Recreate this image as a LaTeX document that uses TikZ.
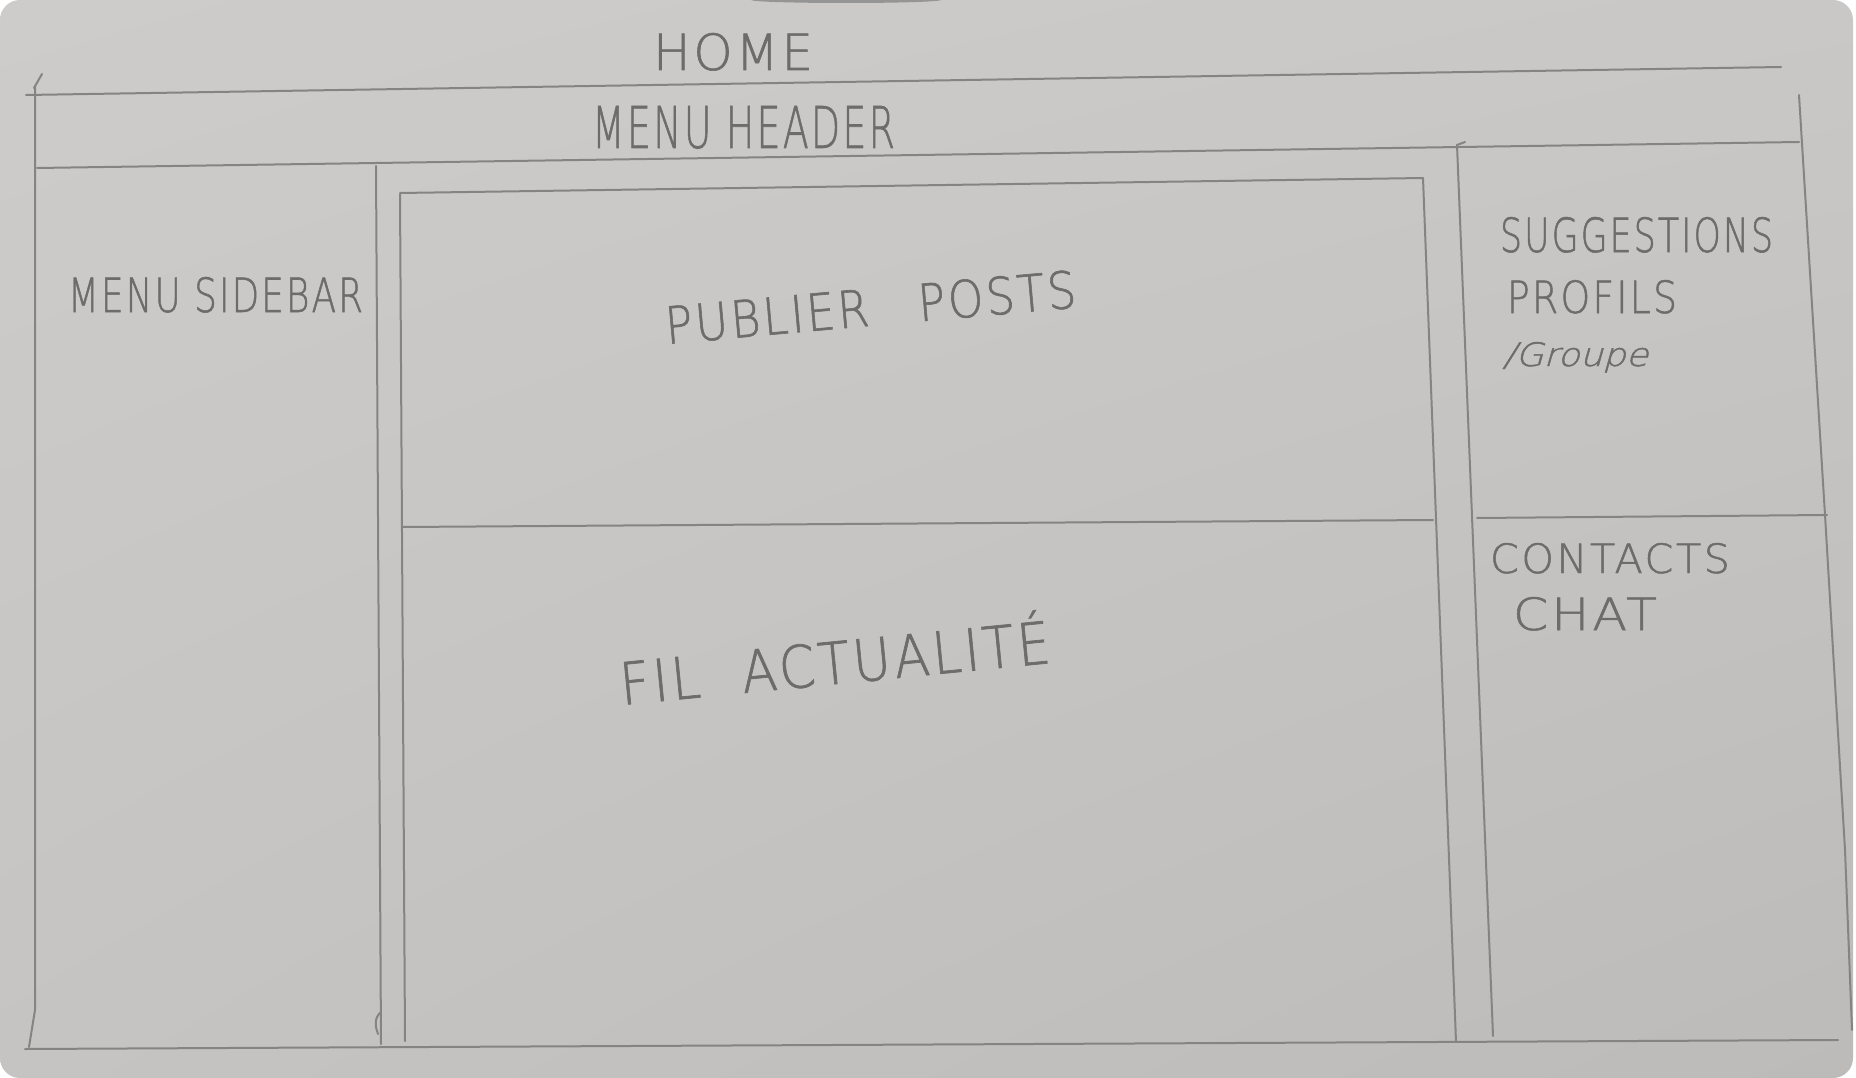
\documentclass[tikz,border=0pt]{standalone}
\usepackage{fontspec}
\usepackage{graphicx}
\usetikzlibrary{shadings}
\newfontfamily\hand{DejaVu Sans ExtraLight}[FakeBold=1.2, LetterSpace=6]
\newfontfamily\handslant{DejaVu Sans ExtraLight}[FakeSlant=0.25, FakeBold=1.2]
\definecolor{paperUL}{HTML}{CECCCA}
\definecolor{paperUR}{HTML}{CAC8C6}
\definecolor{paperLL}{HTML}{C6C4C2}
\definecolor{paperLR}{HTML}{BDBBB9}
\definecolor{pencilline}{HTML}{868482}
\definecolor{inkgray}{HTML}{6E6C6A}
% fit a handwritten label into a box of given width and height (in pt)
\newcommand{\fitlabel}[3]{\resizebox{#1pt}{#2pt}{\hand\fontsize{50}{50}\selectfont #3}}
\begin{document}
\begin{tikzpicture}[x=1pt,y=-1pt,
  sheetline/.style={draw=pencilline, line width=2pt, line cap=round, line join=round},
  handlabel/.style={inner sep=0pt, outer sep=0pt, text=inkgray}]
\useasboundingbox (0,0) rectangle (1856,1078);
% sheet of paper
\fill[white] (0,0) rectangle (1856,1078);
\shade[rounded corners=20pt, upper left=paperUL, upper right=paperUR,
       lower left=paperLL, lower right=paperLR] (0,0) rectangle (1853,1078);
\fill[black!55, opacity=0.6] (846,0) ellipse (95 and 3);

% outer frame
\draw[sheetline] (26,95) -- (1781,67);
\draw[sheetline] (35,86) -- (35,1010) -- (29,1047);
\draw[sheetline] (34,88) -- (42,74);
\draw[sheetline] (25,1049) -- (1838,1040);
\draw[sheetline] (1799,95) -- (1825,515) -- (1833,650) -- (1845,850) -- (1852,1030);

% header band
\draw[sheetline] (37,168) -- (1799,142);

% sidebar column
\draw[sheetline] (376,166) -- (381,1044);
\draw[sheetline] (381,1012) .. controls (374,1018) and (375,1026) .. (378,1034);

% central column: post box and news feed
\draw[sheetline] (400,194) -- (405,1041);
\draw[sheetline] (400,193) -- (1423,178) -- (1456,1042);
\draw[sheetline] (402,527) -- (1433,520);

% right column
\draw[sheetline] (1457,145) -- (1493,1036);
\draw[sheetline] (1457,145) -- (1465,142);
\draw[sheetline] (1477,518) -- (1827,515);

% labels
\node[handlabel, anchor=base west] (home) at (653,70) {\fitlabel{160}{37}{HOME}};
\node[handlabel, anchor=base west] (menuheader) at (592,148) {\fitlabel{303}{42}{MENU HEADER}};
\node[handlabel, anchor=base west] (menusidebar) at (68,312) {\fitlabel{295}{35}{MENU SIDEBAR}};
\node[handlabel, anchor=base west, rotate=5.1] (publier) at (667,344)
  {\fitlabel{412}{38}{PUBLIER\hspace{1.1em}POSTS}};
\node[handlabel, anchor=base west, rotate=5.6] (filactu) at (622,705)
  {\fitlabel{432}{54}{FIL\hspace{0.8em}ACTUALITÉ}};
\node[handlabel, anchor=base west] (suggestions) at (1500,252) {\fitlabel{273}{35}{SUGGESTIONS}};
\node[handlabel, anchor=base west] (profils) at (1507,313) {\fitlabel{170}{33}{PROFILS}};
\node[handlabel, anchor=base west] (groupe) at (1503,366)
  {\resizebox{145pt}{24pt}{\handslant\fontsize{40}{40}\selectfont /Groupe}};
\node[handlabel, anchor=base west] (contacts) at (1490,573) {\fitlabel{240}{30}{CONTACTS}};
\node[handlabel, anchor=base west] (chat) at (1513,630) {\fitlabel{144}{33}{CHAT}};
\end{tikzpicture}
\end{document}
